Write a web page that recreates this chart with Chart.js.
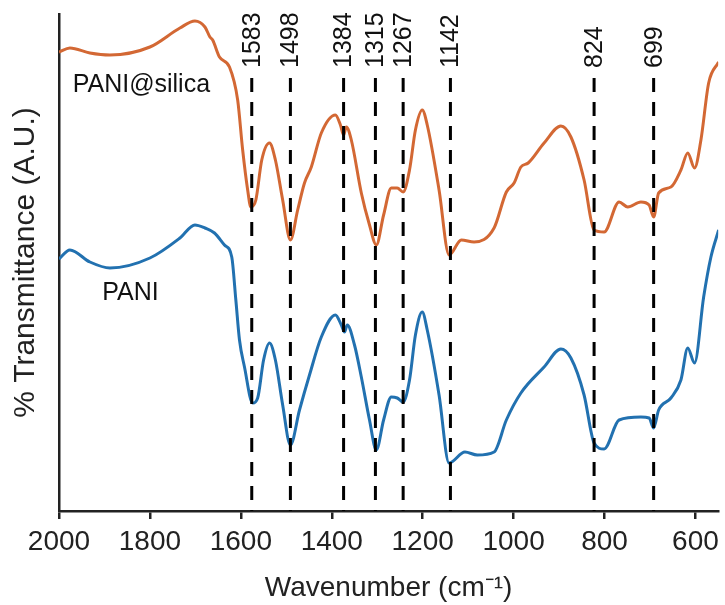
<!DOCTYPE html>
<html>
<head>
<meta charset="utf-8">
<script src="https://cdn.jsdelivr.net/npm/chart.js@4/dist/chart.umd.min.js"></script>
<style>
  html, body { margin: 0; padding: 0; background: #fff; }
  #wrap { width: 725px; height: 605px; }
</style>
</head>
<body>
<div id="wrap"><canvas id="ftirChart" width="725" height="605"></canvas></div>
<script>
// wavenumbers (cm-1) and transmittance (arbitrary units)
var silicaWn = [2000, 1976, 1932, 1888, 1800, 1734, 1701, 1679, 1668, 1662, 1647, 1625, 1607, 1596, 1585, 1578,
  1567, 1554, 1537, 1524, 1508, 1491, 1475, 1460, 1445, 1423, 1392, 1381, 1374, 1368, 1357, 1335, 1317,
  1302, 1286, 1269, 1256, 1243, 1229, 1216, 1201, 1190, 1164, 1142, 1115, 1087, 1043, 1016, 999, 984,
  968, 933, 896, 874, 845, 823, 801, 768, 749, 720, 702, 692, 681, 654, 632, 617, 602, 588, 571, 549];
var silicaT = [459, 463, 458, 456, 464, 483, 490, 484, 474, 471, 454, 444, 411, 361, 321, 304,
  311, 351, 368, 351, 311, 271, 301, 328, 344, 378, 396, 386, 376, 384, 371, 318, 286,
  266, 296, 323, 323, 319, 341, 381, 401, 386, 321, 256, 271, 269, 283, 319, 328, 344,
  348, 368, 385, 374, 331, 281, 279, 309, 304, 309, 306, 294, 318, 324, 341, 358, 343, 371, 428, 449];

var paniWn = [2000, 1976, 1932, 1888, 1800, 1734, 1701, 1679, 1658, 1636, 1620, 1611, 1603, 1592, 1574, 1563,
  1550, 1537, 1524, 1508, 1491, 1471, 1449, 1423, 1392, 1379, 1372, 1366, 1350, 1335, 1317, 1302,
  1286, 1269, 1256, 1243, 1229, 1216, 1201, 1190, 1164, 1142, 1107, 1080, 1043, 1016, 984, 933,
  896, 874, 845, 823, 801, 768, 720, 702, 692, 681, 654, 632, 617, 602, 582, 566, 549];
var paniT = [252, 261, 249, 243, 253, 273, 286, 283, 278, 266, 254, 211, 171, 144, 108, 113,
  151, 168, 151, 106, 66, 101, 136, 174, 196, 186, 179, 186, 166, 134, 91, 61,
  91, 114, 113, 109, 131, 176, 199, 181, 116, 48, 59, 56, 59, 91, 118, 144,
  162, 153, 116, 68, 62, 91, 94, 93, 83, 101, 113, 131, 163, 148, 214, 254, 281];

var tickValues = [2000, 1800, 1600, 1400, 1200, 1000, 800, 600];
var peakLabels = ['1583', '1498', '1384', '1315', '1267', '1142', '824', '699'];
var peakWn = [1576, 1491, 1374, 1304, 1243, 1139, 823, 692];

var orange = 'rgb(211, 104, 52)';
var blue = 'rgb(34, 113, 176)';
var axisColor = '#222';
var fontFamily = "Arial, 'Liberation Sans', Helvetica, sans-serif";

function toPoints(xs, ys) {
  return xs.map(function (x, i) { return { x: x, y: ys[i] }; });
}

// dashed peak markers, their rotated labels and the curve names
var annotations = {
  id: 'annotations',
  afterDatasetsDraw: function (chart) {
    var ctx = chart.ctx;
    var xs = chart.scales.x;
    var ys = chart.scales.y;
    ctx.save();
    ctx.strokeStyle = '#000';
    ctx.lineWidth = 3;
    ctx.setLineDash([14, 10]);
    peakWn.forEach(function (wn, i) {
      var px = xs.getPixelForValue(wn);
      ctx.beginPath();
      ctx.moveTo(px, 78);
      ctx.lineTo(px, ys.bottom);
      ctx.stroke();
      ctx.save();
      ctx.translate(px, 68);
      ctx.rotate(-Math.PI / 2);
      ctx.fillStyle = '#111';
      ctx.font = '25px ' + fontFamily;
      ctx.textAlign = 'left';
      ctx.textBaseline = 'middle';
      ctx.fillText(peakLabels[i], 0, 1);
      ctx.restore();
    });
    ctx.setLineDash([]);
    ctx.fillStyle = '#111';
    ctx.font = '25px ' + fontFamily;
    ctx.textAlign = 'left';
    ctx.textBaseline = 'alphabetic';
    ctx.fillText('PANI@silica', xs.getPixelForValue(1970), ys.getPixelForValue(419));
    ctx.fillText('PANI', xs.getPixelForValue(1905), ys.getPixelForValue(211));
    ctx.restore();
  }
};

var chart = new Chart(document.getElementById('ftirChart'), {
  type: 'line',
  data: {
    datasets: [{
      label: 'PANI@silica',
      data: toPoints(silicaWn, silicaT),
      borderColor: orange,
      borderWidth: 3,
      pointRadius: 0,
      cubicInterpolationMode: 'monotone',
      fill: false
    }, {
      label: 'PANI',
      data: toPoints(paniWn, paniT),
      borderColor: blue,
      borderWidth: 3,
      pointRadius: 0,
      cubicInterpolationMode: 'monotone',
      fill: false
    }]
  },
  options: {
    responsive: false,
    animation: false,
    layout: { padding: { top: 14, right: 5, left: 0, bottom: 0 } },
    plugins: {
      legend: { display: false },
      tooltip: { enabled: false }
    },
    scales: {
      x: {
        type: 'linear',
        reverse: true,
        min: 550,
        max: 2000,
        afterBuildTicks: function (scale) {
          scale.ticks = tickValues.map(function (v) { return { value: v }; });
        },
        afterFit: function (scale) { scale.height = 94; },
        grid: { drawOnChartArea: false, drawTicks: true, tickLength: 8, color: axisColor, lineWidth: 2.5 },
        border: { display: true, color: axisColor, width: 2.5 },
        ticks: {
          color: '#222',
          padding: 6,
          maxRotation: 0,
          font: { size: 28, family: fontFamily },
          callback: function (v) { return String(v); }
        },
        title: {
          display: true,
          text: 'Wavenumber (cm⁻¹)',
          color: '#222',
          padding: { top: 0, bottom: 0 },
          font: { size: 28, family: fontFamily }
        }
      },
      y: {
        min: 0,
        max: 497,
        afterFit: function (scale) { scale.width = 59; },
        grid: { display: false },
        border: { display: true, color: axisColor, width: 2.5 },
        ticks: { display: false },
        title: {
          display: true,
          text: '% Transmittance (A.U.)',
          color: '#222',
          padding: { top: 8, bottom: 0 },
          font: { size: 30, family: fontFamily }
        }
      }
    }
  },
  plugins: [annotations]
});
</script>
</body>
</html>
